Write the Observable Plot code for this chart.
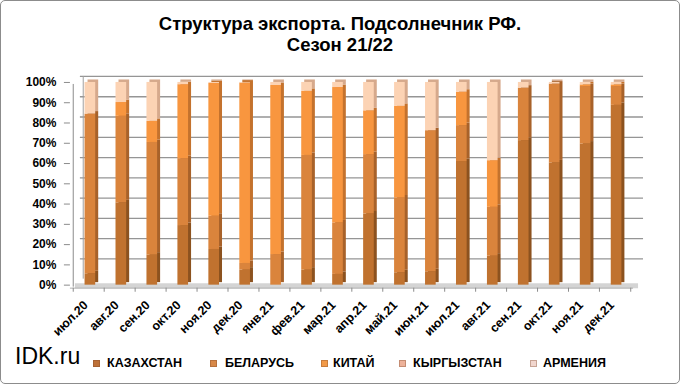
<!DOCTYPE html>
<html>
<head>
<meta charset="utf-8">
<script src="https://cdn.jsdelivr.net/npm/d3@7"></script>
<script src="https://cdn.jsdelivr.net/npm/@observablehq/plot@0.6"></script>
<style>
  html, body { margin: 0; padding: 0; background: #fff; }
  #chart { position: relative; width: 680px; height: 384px; box-sizing: border-box;
           border: 1px solid #8c8c8c; border-radius: 5px; overflow: hidden;
           font-family: "Liberation Sans", Arial, sans-serif; }
  #title { position: absolute; left: 0; top: 12px; width: 678px; text-align: center;
           font-weight: bold; font-size: 18.5px; line-height: 21px; color: #000; letter-spacing: 0px; }
  #plot { position: absolute; left: -1px; top: 55px; }
  #brand { position: absolute; left: 14px; top: 342px; font-size: 23px; color: #000; }
  .lg { position: absolute; top: 355px; font-size: 12.5px; font-weight: bold; color: #000; white-space: nowrap; }
  .sw { position: absolute; top: 359px; width: 7px; height: 7px; }
</style>
</head>
<body>
<div id="chart">
  <div id="title">Структура экспорта. Подсолнечник РФ.<br>Сезон 21/22</div>
  <div id="plot"></div>
  <div id="brand">IDK.ru</div>
  <div id="legend"></div>
</div>
<script>
const months = ["июл.20","авг.20","сен.20","окт.20","ноя.20","дек.20","янв.21","фев.21","мар.21","апр.21","май.21","июн.21","июл.21","авг.21","сен.21","окт.21","ноя.21","дек.21"];
const seriesNames = ["КАЗАХСТАН","БЕЛАРУСЬ","КИТАЙ","КЫРГЫЗСТАН","АРМЕНИЯ"];
const kazakhstan = [5.6, 40.6, 14.8, 29.4, 17.6, 7.4, 0, 7.4, 5.3, 35.1, 6.1, 6.6, 61.0, 14.3, 71.3, 60.3, 69.6, 88.7];
const belarus    = [78.8, 42.7, 55.6, 33.0, 16.4, 3.3, 15.1, 56.6, 25.4, 29.3, 36.9, 69.6, 17.7, 24.1, 25.9, 38.9, 28.4, 9.3];
const china      = [0, 6.8, 10.4, 36.5, 65.5, 89.0, 83.4, 31.6, 66.8, 21.6, 45.2, 0, 16.5, 23.0, 0, 0, 0.8, 0.8];
const kyrgyzstan = [15.6, 9.9, 19.2, 1.1, 0.5, 0.3, 1.5, 4.4, 2.5, 14.0, 11.8, 23.8, 4.8, 38.6, 2.8, 0.8, 1.2, 1.2];
const armenia    = [0, 0, 0, 0, 0, 0, 0, 0, 0, 0, 0, 0, 0, 0, 0, 0, 0, 0];
const yTicks = [0,10,20,30,40,50,60,70,80,90,100];

const frontColors = ["#C0722F","#DA843C","#F8963F","#FCD3B4","#FDE7DA"];
const sideColors  = ["#8C521F","#A8622A","#C4722D","#D6A98C","#E0C6B8"];
const legendColors = ["#BD7038","#D88848","#F29A48","#EDB29A","#F1D6CE"];

const values = [kazakhstan, belarus, china, kyrgyzstan, armenia];
const rows = [];
months.forEach((m, i) => {
  let acc = 0;
  values.forEach((arr, s) => {
    const v = arr[i];
    rows.push({month: m, series: s, y1: acc, y2: acc + v});
    acc += v;
  });
});

const step = (680 - 70 - 46) / months.length;
const inset = (step - 11) / 2;

const marks = [];
marks.push(Plot.ruleY(yTicks.slice(1), {stroke: "#959595", strokeWidth: 1.3, dx: 10, dy: -6}));
marks.push(Plot.ruleX([months[0]], {y1: 0, y2: 100, dx: -step/2 + 10, dy: -6, stroke: "#a0a0a0"}));
marks.push(Plot.ruleY([0], {stroke: "#d4d4d4", strokeWidth: 5, dx: 5, dy: 0.5}));
marks.push(Plot.ruleY([0], {stroke: "#b0b0b0", strokeWidth: 1, dy: 3}));
marks.push(Plot.ruleX([months[0]], {y1: 0, y2: 100, dx: -step/2, dy: 2, stroke: "#8c8c8c"}));
marks.push(Plot.ruleX(months, {y1: -1.5, y2: -3.5, dx: -step/2, stroke: "#8c8c8c"}));
marks.push(Plot.ruleX([months[months.length-1]], {y1: -1.5, y2: -3.5, dx: step/2, stroke: "#8c8c8c"}));
seriesNames.forEach((s, k) => {
  marks.push(Plot.barY(rows.filter(d => d.series === k && d.y2 > d.y1), {
    x: "month", y1: "y1", y2: "y2", fill: sideColors[k], dx: 4.5, dy: -2.5,
    insetLeft: inset, insetRight: inset
  }));
});
seriesNames.forEach((s, k) => {
  marks.push(Plot.barY(rows.filter(d => d.series === k && d.y2 > d.y1), {
    x: "month", y1: "y1", y2: "y2", fill: frontColors[k], dx: 1.5,
    insetLeft: inset, insetRight: inset
  }));
});
marks.push(Plot.axisY({ticks: yTicks, tickFormat: d => d + "%", tickSize: 6, tickPadding: 8,
  fontSize: 12, fontWeight: "bold", stroke: "#8c8c8c", color: "#000"}));
marks.push(Plot.axisX({tickRotate: -45, tickSize: 0, tickPadding: 12, fontSize: 12.5, fontWeight: "bold", dx: -3, dy: 6}));

const plot = Plot.plot({
  width: 680,
  height: 290,
  marginTop: 26,
  marginBottom: 61,
  marginLeft: 70,
  marginRight: 46,
  style: {fontFamily: "'Liberation Sans', Arial, sans-serif", color: "#000", background: "transparent"},
  x: {type: "band", domain: months, padding: 0, label: null},
  y: {domain: [0, 100], label: null},
  marks
});
document.getElementById("plot").appendChild(plot);

const legend = document.getElementById("legend");
const swX = [92, 209, 320, 398, 529];
const txX = [106, 224, 332, 412, 542];
seriesNames.forEach((s, k) => {
  const sw = document.createElement("div");
  sw.className = "sw";
  sw.style.left = swX[k] + "px";
  sw.style.background = legendColors[k];
  sw.style.boxShadow = "inset 0 0 0 1px rgba(120,70,40,0.35)";
  legend.appendChild(sw);
  const t = document.createElement("div");
  t.className = "lg";
  t.style.left = txX[k] + "px";
  t.textContent = s;
  legend.appendChild(t);
});
</script>
</body>
</html>
